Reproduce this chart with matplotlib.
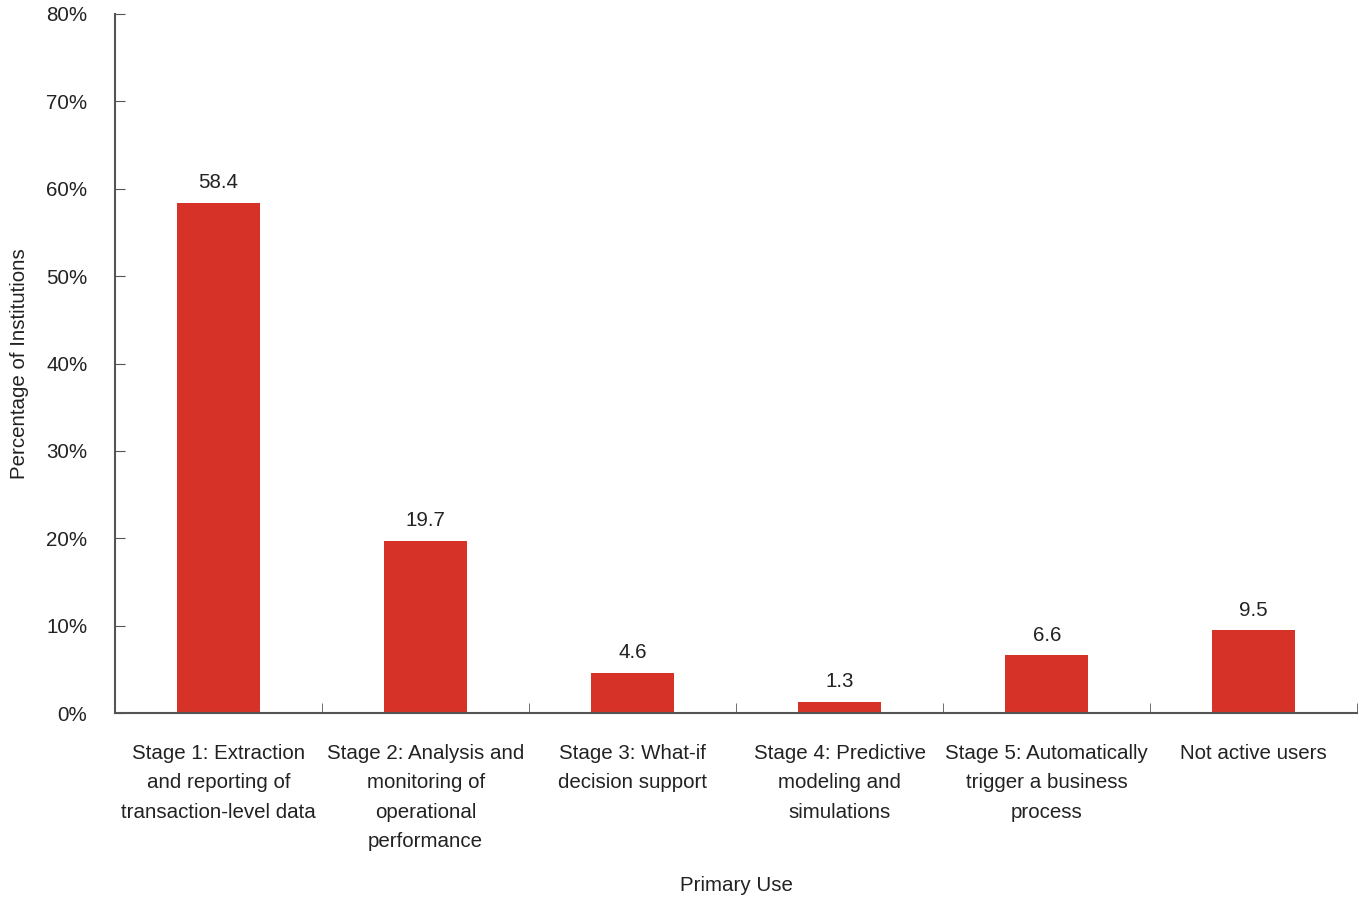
import matplotlib
matplotlib.use("Agg")
import matplotlib.pyplot as plt
from matplotlib import font_manager
from matplotlib.ticker import FuncFormatter, FixedLocator

names = {f.name for f in font_manager.fontManager.ttflist}
fam = ['Liberation Sans Narrow', 'Liberation Sans', 'DejaVu Sans']
fam = [f for f in fam if f in names] or ['DejaVu Sans']
plt.rcParams['font.family'] = fam

categories = [
    "Stage 1: Extraction\nand reporting of\ntransaction-level data",
    "Stage 2: Analysis and\nmonitoring of\noperational\nperformance",
    "Stage 3: What-if\ndecision support",
    "Stage 4: Predictive\nmodeling and\nsimulations",
    "Stage 5: Automatically\ntrigger a business\nprocess",
    "Not active users",
]
values = [58.4, 19.7, 4.6, 1.3, 6.6, 9.5]
yticks = [0, 10, 20, 30, 40, 50, 60, 70, 80]

FS = 14.8
fig = plt.figure(figsize=(13.6, 9.02), dpi=100)
ax = fig.add_axes([0.0846, 0.2095, 0.9134, 0.775])
x = list(range(len(values)))
ax.bar(x, values, width=0.4, color='#D63228', zorder=2)
for xi, v in zip(x, values):
    ax.text(xi, v + 1.2, f"{v}", ha='center', va='bottom', fontsize=FS, color='#222222')

ax.set_xlim(-0.5, len(values) - 0.5)
ax.set_ylim(0, 80)
ax.yaxis.set_major_locator(FixedLocator(yticks))
ax.yaxis.set_major_formatter(FuncFormatter(lambda v, p: f"{int(v)}%"))
ax.set_xticks(x)
ax.set_xticklabels(categories, fontsize=FS, linespacing=1.7, color='#222222')
ax.tick_params(axis='x', length=0, pad=22)
ax.set_xticks([i - 0.5 for i in range(len(values) + 1)], minor=True)
ax.tick_params(axis='x', which='minor', direction='in', length=7, color='#555555')
ax.tick_params(axis='y', direction='in', length=7, labelsize=FS, color='#555555', labelcolor='#222222', pad=20)
ax.spines['top'].set_visible(False)
ax.spines['right'].set_visible(False)
ax.spines['left'].set_color('#555555')
ax.spines['bottom'].set_color('#555555')
ax.spines['left'].set_linewidth(1.5)
ax.spines['bottom'].set_linewidth(1.5)

ax.set_xlabel("Primary Use", fontsize=FS, color='#222222', labelpad=18)
ax.set_ylabel("Percentage of Institutions", fontsize=FS, color='#222222', labelpad=12)

fig.savefig("out.png", dpi=100)
